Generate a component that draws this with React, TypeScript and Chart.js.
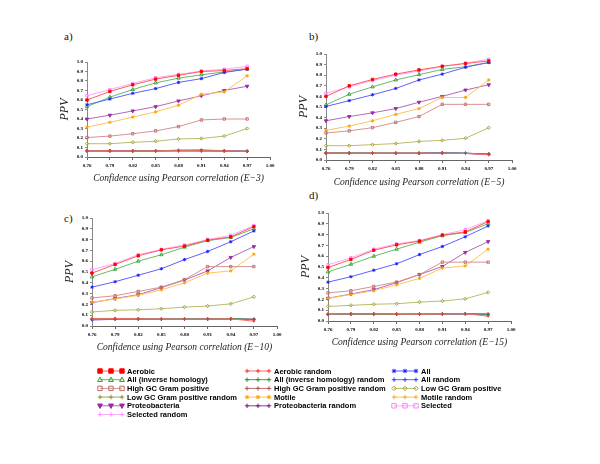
import React, { useEffect, useRef } from "react";
import { Chart, registerables } from "chart.js";

Chart.register(...registerables);

// ---------- data ----------
const xValues = [0.76, 0.79, 0.82, 0.85, 0.88, 0.91, 0.94, 0.97];
const xTicks = [0.76, 0.79, 0.82, 0.85, 0.88, 0.91, 0.94, 0.97, 1.0];
const yTicks = [0, 0.1, 0.2, 0.3, 0.4, 0.5, 0.6, 0.7, 0.8, 0.9, 1.0];

const seriesNames = [
  "Aerobic",
  "Aerobic random",
  "All",
  "All (inverse homology)",
  "All (inverse homology) random",
  "All random",
  "High GC Gram positive",
  "High GC Gram positive random",
  "Low GC Gram positive",
  "Low GC Gram positive random",
  "Motile",
  "Motile random",
  "Proteobacteria",
  "Proteobacteria random",
  "Selected",
  "Selected random",
];

const panelLabels = ["a)", "b)", "c)", "d)"];
const panelExponents = ["E\u22123", "E\u22125", "E\u221210", "E\u221215"];

// rows follow seriesNames order
const panelA = [
  [0.60, 0.69, 0.76, 0.82, 0.86, 0.90, 0.91, 0.93],
  [0.065, 0.065, 0.064, 0.064, 0.066, 0.066, 0.065, 0.060],
  [0.55, 0.61, 0.67, 0.72, 0.785, 0.825, 0.89, 0.925],
  [0.53, 0.63, 0.71, 0.78, 0.83, 0.865, 0.895, 0.925],
  [0.064, 0.064, 0.063, 0.064, 0.070, 0.068, 0.064, 0.060],
  [0.065, 0.066, 0.065, 0.065, 0.072, 0.075, 0.066, 0.060],
  [0.205, 0.22, 0.245, 0.275, 0.32, 0.39, 0.40, 0.40],
  [0.064, 0.064, 0.062, 0.063, 0.066, 0.064, 0.064, 0.060],
  [0.14, 0.14, 0.155, 0.165, 0.19, 0.195, 0.22, 0.30],
  [0.066, 0.065, 0.064, 0.065, 0.065, 0.066, 0.064, 0.061],
  [0.315, 0.365, 0.42, 0.475, 0.545, 0.66, 0.685, 0.855],
  [0.065, 0.066, 0.065, 0.065, 0.068, 0.066, 0.063, 0.062],
  [0.40, 0.44, 0.485, 0.53, 0.59, 0.645, 0.70, 0.745],
  [0.066, 0.066, 0.066, 0.066, 0.065, 0.064, 0.064, 0.060],
  [0.645, 0.71, 0.775, 0.835, 0.87, 0.905, 0.925, 0.955],
  [0.064, 0.064, 0.062, 0.062, 0.064, 0.064, 0.062, 0.058],
];

const panelB = [
  [0.60, 0.70, 0.76, 0.81, 0.85, 0.885, 0.91, 0.935],
  [0.066, 0.064, 0.064, 0.064, 0.064, 0.064, 0.062, 0.050],
  [0.505, 0.56, 0.615, 0.675, 0.755, 0.81, 0.875, 0.92],
  [0.52, 0.62, 0.69, 0.755, 0.805, 0.855, 0.88, 0.92],
  [0.066, 0.065, 0.064, 0.064, 0.063, 0.066, 0.063, 0.055],
  [0.065, 0.065, 0.064, 0.064, 0.064, 0.070, 0.064, 0.056],
  [0.255, 0.275, 0.305, 0.355, 0.41, 0.525, 0.525, 0.525],
  [0.065, 0.064, 0.064, 0.063, 0.063, 0.065, 0.062, 0.054],
  [0.135, 0.135, 0.145, 0.155, 0.175, 0.185, 0.205, 0.305],
  [0.066, 0.065, 0.065, 0.064, 0.064, 0.065, 0.063, 0.058],
  [0.28, 0.32, 0.37, 0.43, 0.485, 0.59, 0.59, 0.755],
  [0.066, 0.065, 0.064, 0.064, 0.065, 0.066, 0.063, 0.060],
  [0.37, 0.41, 0.445, 0.485, 0.545, 0.60, 0.66, 0.71],
  [0.067, 0.065, 0.064, 0.064, 0.064, 0.068, 0.064, 0.056],
  [0.63, 0.69, 0.75, 0.80, 0.84, 0.88, 0.915, 0.95],
  [0.070, 0.065, 0.064, 0.064, 0.064, 0.064, 0.062, 0.048],
];

const panelC = [
  [0.49, 0.57, 0.65, 0.705, 0.74, 0.795, 0.825, 0.92],
  [0.065, 0.068, 0.066, 0.064, 0.062, 0.064, 0.066, 0.045],
  [0.36, 0.41, 0.47, 0.53, 0.615, 0.69, 0.78, 0.88],
  [0.455, 0.525, 0.60, 0.66, 0.73, 0.79, 0.82, 0.90],
  [0.063, 0.066, 0.065, 0.063, 0.064, 0.064, 0.068, 0.060],
  [0.055, 0.062, 0.064, 0.062, 0.063, 0.064, 0.066, 0.062],
  [0.26, 0.28, 0.32, 0.36, 0.43, 0.55, 0.55, 0.55],
  [0.066, 0.068, 0.066, 0.064, 0.064, 0.064, 0.066, 0.058],
  [0.13, 0.145, 0.15, 0.16, 0.175, 0.185, 0.205, 0.27],
  [0.064, 0.065, 0.064, 0.063, 0.064, 0.064, 0.070, 0.062],
  [0.22, 0.25, 0.285, 0.335, 0.40, 0.49, 0.51, 0.665],
  [0.064, 0.066, 0.065, 0.062, 0.064, 0.064, 0.066, 0.064],
  [0.215, 0.255, 0.29, 0.355, 0.425, 0.51, 0.635, 0.735],
  [0.060, 0.064, 0.064, 0.062, 0.063, 0.064, 0.065, 0.060],
  [0.52, 0.58, 0.66, 0.71, 0.75, 0.80, 0.84, 0.93],
  [0.070, 0.072, 0.070, 0.066, 0.066, 0.066, 0.068, 0.070],
];

const panelD = [
  [0.495, 0.57, 0.655, 0.705, 0.74, 0.795, 0.825, 0.92],
  [0.064, 0.066, 0.066, 0.064, 0.063, 0.065, 0.067, 0.045],
  [0.36, 0.41, 0.47, 0.53, 0.615, 0.69, 0.78, 0.88],
  [0.455, 0.525, 0.60, 0.665, 0.73, 0.79, 0.82, 0.90],
  [0.062, 0.064, 0.064, 0.060, 0.062, 0.064, 0.068, 0.062],
  [0.060, 0.064, 0.064, 0.062, 0.063, 0.064, 0.066, 0.060],
  [0.26, 0.28, 0.32, 0.36, 0.43, 0.545, 0.545, 0.545],
  [0.064, 0.066, 0.066, 0.064, 0.062, 0.064, 0.066, 0.056],
  [0.135, 0.145, 0.155, 0.16, 0.175, 0.185, 0.205, 0.265],
  [0.063, 0.065, 0.064, 0.064, 0.064, 0.064, 0.068, 0.064],
  [0.21, 0.245, 0.28, 0.335, 0.395, 0.49, 0.51, 0.665],
  [0.063, 0.065, 0.065, 0.064, 0.064, 0.064, 0.066, 0.064],
  [0.21, 0.25, 0.29, 0.355, 0.43, 0.505, 0.635, 0.735],
  [0.060, 0.062, 0.064, 0.063, 0.063, 0.064, 0.067, 0.060],
  [0.52, 0.585, 0.665, 0.715, 0.745, 0.80, 0.845, 0.93],
  [0.066, 0.068, 0.068, 0.066, 0.066, 0.068, 0.068, 0.072],
];

const panelValues = [panelA, panelB, panelC, panelD];

// ---------- styles ----------
type SeriesStyle = { color: string; line: string; pointStyle: string; filled: boolean; rotation?: number };
const seriesStyles: SeriesStyle[] = [
  { color: "#ff0000", line: "#ff5a5a", pointStyle: "rect", filled: true },
  { color: "#ff3030", line: "#ff6a6a", pointStyle: "cross", filled: false },
  { color: "#2020ff", line: "#6060ff", pointStyle: "star", filled: false },
  { color: "#30a030", line: "#66bb66", pointStyle: "triangle", filled: false },
  { color: "#209020", line: "#40a040", pointStyle: "cross", filled: false },
  { color: "#3838ff", line: "#6868ff", pointStyle: "cross", filled: false },
  { color: "#c06868", line: "#d49494", pointStyle: "rect", filled: false },
  { color: "#b05050", line: "#c07070", pointStyle: "cross", filled: false },
  { color: "#a0a030", line: "#bcbc6c", pointStyle: "rectRot", filled: false },
  { color: "#909028", line: "#a8a850", pointStyle: "cross", filled: false },
  { color: "#ffa000", line: "#ffc458", pointStyle: "star", filled: false },
  { color: "#ffa820", line: "#ffc050", pointStyle: "cross", filled: false },
  { color: "#9a2aa2", line: "#b468bc", pointStyle: "triangle", filled: true, rotation: 180 },
  { color: "#801088", line: "#9a3aa2", pointStyle: "cross", filled: false },
  { color: "#ff80ff", line: "#ffa8ff", pointStyle: "rect", filled: false },
  { color: "#ff90ff", line: "#ffb0ff", pointStyle: "cross", filled: false },
];

// ---------- layout ----------
const panelBoxes = [
  { L: 87, R: 270, T: 62, B: 157, titleY: 178, labelX: 64, labelY: 30 },
  { L: 326, R: 512, T: 54, B: 160, titleY: 182, labelX: 309, labelY: 30 },
  { L: 92, R: 277, T: 218, B: 326, titleY: 347, labelX: 64, labelY: 212 },
  { L: 328, R: 511, T: 213, B: 321, titleY: 342, labelX: 309, labelY: 189 },
];

const tickFont = { family: "'Liberation Serif', serif", size: 5, weight: "bold" as const };

function PanelChart({ index }: { index: number }) {
  const ref = useRef<HTMLCanvasElement>(null);
  const box = panelBoxes[index];
  const YW = 30;
  const PT = 6;
  const PR = 14;
  const XH = box.titleY - box.B + 6;
  const width = YW + (box.R - box.L) + PR;
  const height = PT + (box.B - box.T) + XH;

  useEffect(() => {
    const values = panelValues[index];
    const chart = new Chart(ref.current as HTMLCanvasElement, {
      type: "line",
      data: {
        datasets: seriesNames.map((name, i) => {
          const st = seriesStyles[i];
          return {
            label: name,
            data: xValues.map((x, j) => ({ x, y: values[i][j] })),
            borderColor: st.line,
            backgroundColor: st.color,
            borderWidth: 1,
            pointStyle: st.pointStyle as any,
            pointRadius: st.pointStyle === "triangle" ? 2 : st.pointStyle === "cross" ? 1.5 : 1.7,
            pointBorderWidth: 0.9,
            pointBorderColor: st.color,
            pointBackgroundColor: st.filled ? st.color : "rgba(255,255,255,0)",
            pointRotation: st.rotation || 0,
            tension: 0,
            fill: false,
            clip: 8,
          } as any;
        }),
      },
      options: {
        responsive: false,
        animation: false,
        events: [],
        layout: { padding: { left: 0, right: PR, top: PT, bottom: 0 } },
        plugins: {
          legend: { display: false },
          tooltip: { enabled: false },
          title: { display: false },
        },
        scales: {
          x: {
            type: "linear",
            min: xTicks[0],
            max: xTicks[xTicks.length - 1],
            afterBuildTicks: (s: any) => {
              s.ticks = xTicks.map((v) => ({ value: v }));
            },
            afterFit: (s: any) => {
              s.height = XH;
              s.paddingLeft = 0;
              s.paddingRight = 0;
            },
            ticks: {
              autoSkip: false,
              maxRotation: 0,
              padding: 3,
              color: "#000",
              font: tickFont,
              callback: (v: any) => Number(v).toFixed(2),
            },
            grid: {
              display: true,
              drawOnChartArea: false,
              drawTicks: true,
              tickLength: 3,
              color: "#666",
            },
            border: { display: true, color: "#666", width: 1 },
            title: {
              display: true,
              text: `Confidence using Pearson correlation (${panelExponents[index]})`,
              color: "#222",
              font: { family: "'Liberation Serif', serif", size: 9.5, style: "italic" },
              padding: 0,
            },
          },
          y: {
            type: "linear",
            min: yTicks[0],
            max: yTicks[yTicks.length - 1],
            afterBuildTicks: (s: any) => {
              s.ticks = yTicks.map((v) => ({ value: v }));
            },
            afterFit: (s: any) => {
              s.width = YW;
              s.paddingTop = 0;
              s.paddingBottom = 0;
            },
            ticks: {
              autoSkip: false,
              padding: 2,
              color: "#000",
              font: tickFont,
              callback: (v: any) => Number(v).toFixed(1),
            },
            grid: {
              display: true,
              drawOnChartArea: false,
              drawTicks: true,
              tickLength: 2,
              color: "#888",
            },
            border: { display: true, color: "#888", width: 1, dash: [1, 1] },
            title: {
              display: true,
              text: "PPV",
              color: "#222",
              font: { family: "'Liberation Serif', serif", size: 12, style: "italic" },
              padding: { top: 1, bottom: 0 },
            },
          },
        },
      },
    });
    return () => chart.destroy();
  }, [index]);

  return (
    <canvas
      ref={ref}
      width={width}
      height={height}
      style={{
        position: "absolute",
        left: box.L - YW,
        top: box.T - PT,
        width,
        height,
      }}
    />
  );
}

function drawMarker(ctx: CanvasRenderingContext2D, st: SeriesStyle, x: number, y: number, r: number) {
  ctx.save();
  ctx.translate(x, y);
  ctx.rotate(((st.rotation || 0) * Math.PI) / 180);
  ctx.strokeStyle = st.color;
  ctx.fillStyle = st.color;
  ctx.lineWidth = 1;
  ctx.beginPath();
  let closed = true;
  switch (st.pointStyle) {
    case "rect":
      ctx.rect(-r, -r, 2 * r, 2 * r);
      break;
    case "triangle":
      ctx.moveTo(0, -r * 1.2);
      ctx.lineTo(r * 1.1, r * 0.8);
      ctx.lineTo(-r * 1.1, r * 0.8);
      ctx.closePath();
      break;
    case "rectRot":
      ctx.moveTo(0, -r);
      ctx.lineTo(r, 0);
      ctx.lineTo(0, r);
      ctx.lineTo(-r, 0);
      ctx.closePath();
      break;
    case "star": {
      closed = false;
      ctx.moveTo(0, -r);
      ctx.lineTo(0, r);
      ctx.moveTo(-r, 0);
      ctx.lineTo(r, 0);
      const d = r * 0.7;
      ctx.moveTo(-d, -d);
      ctx.lineTo(d, d);
      ctx.moveTo(-d, d);
      ctx.lineTo(d, -d);
      break;
    }
    default:
      closed = false;
      ctx.moveTo(0, -r);
      ctx.lineTo(0, r);
      ctx.moveTo(-r, 0);
      ctx.lineTo(r, 0);
  }
  if (closed && st.filled) ctx.fill();
  ctx.stroke();
  ctx.restore();
}

const legendTop = 355;
const legendColX = [100, 247, 394];
const legendRow0 = 16;
const legendRowGap = 8.7;

function LegendChart() {
  const ref = useRef<HTMLCanvasElement>(null);
  useEffect(() => {
    const legendPlugin = {
      id: "gridLegend",
      afterDraw(chart: any) {
        const ctx: CanvasRenderingContext2D = chart.ctx;
        ctx.save();
        ctx.font = "bold 7.5px 'Liberation Sans', Arial, sans-serif";
        ctx.textBaseline = "middle";
        ctx.textAlign = "left";
        seriesNames.forEach((name, i) => {
          const col = i % 3;
          const row = Math.floor(i / 3);
          const x0 = legendColX[col];
          const y = legendRow0 + row * legendRowGap;
          const st = seriesStyles[i];
          ctx.strokeStyle = st.line;
          ctx.lineWidth = 1;
          ctx.beginPath();
          ctx.moveTo(x0, y);
          ctx.lineTo(x0 + 22, y);
          ctx.stroke();
          [0, 11, 22].forEach((dx) => drawMarker(ctx, st, x0 + dx, y, 2.2));
          ctx.fillStyle = "#000";
          ctx.fillText(name, x0 + 27, y + 0.5);
        });
        ctx.restore();
      },
    };
    const chart = new Chart(ref.current as HTMLCanvasElement, {
      type: "line",
      data: { labels: [], datasets: [] },
      options: {
        responsive: false,
        animation: false,
        events: [],
        plugins: { legend: { display: false }, tooltip: { enabled: false } },
        scales: { x: { display: false }, y: { display: false } },
      },
      plugins: [legendPlugin],
    });
    return () => chart.destroy();
  }, []);
  return (
    <canvas
      ref={ref}
      width={600}
      height={70}
      style={{ position: "absolute", left: 0, top: legendTop, width: 600, height: 70 }}
    />
  );
}

export default function App() {
  return (
    <div
      style={{
        position: "absolute",
        left: 0,
        top: 0,
        width: 600,
        height: 464,
        background: "#fff",
        overflow: "hidden",
      }}
    >
      {panelBoxes.map((b, i) => (
        <div
          key={"lbl" + i}
          style={{
            position: "absolute",
            left: b.labelX,
            top: b.labelY,
            fontFamily: "'Liberation Serif', serif",
            fontSize: 11,
            color: "#111",
            lineHeight: "12px",
          }}
        >
          {panelLabels[i]}
        </div>
      ))}
      {panelBoxes.map((_, i) => (
        <PanelChart key={i} index={i} />
      ))}
      <LegendChart />
    </div>
  );
}
